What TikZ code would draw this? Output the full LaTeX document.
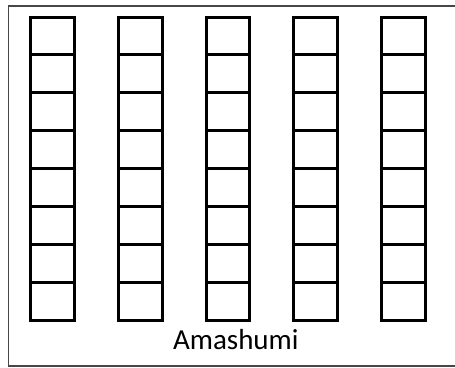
\documentclass[tikz,border=0pt]{standalone}
\usepackage{fontspec}
\setmainfont{Carlito}
\begin{document}
\begin{tikzpicture}[x=1pt,y=-1pt,
  cell/.style={draw=black,line width=3pt,minimum width=43.5pt,minimum height=37.875pt,inner sep=0pt,outer sep=0pt},
  frame/.style={draw=black!72,line width=1.6pt},
  lbl/.style={font=\fontsize{29}{34}\selectfont,inner sep=0pt,anchor=base}]
\useasboundingbox (0,0) rectangle (455,367);
\clip (0,0) rectangle (455,367);
\draw[frame] (8.5,6) rectangle (470,365.7);
\foreach \c in {0,...,4}{
  \foreach \r in {0,...,7}{
    \node[cell] (c\c r\r) at ({30.8+21.75+87.7*\c},{17+37.875/2+37.875*\r}) {};
  }
}
\node[lbl] (label) at (235.8,349) {Amashumi};
\end{tikzpicture}
\end{document}
